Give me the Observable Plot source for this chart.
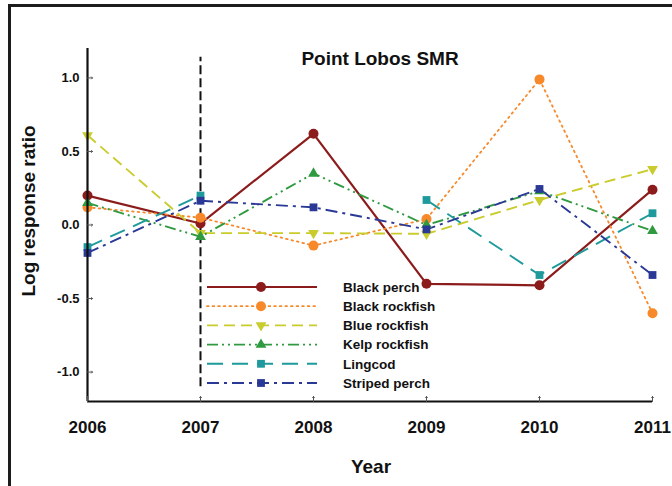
<!DOCTYPE html>
<html>
<head>
<meta charset="utf-8">
<script src="https://cdn.jsdelivr.net/npm/d3@7"></script>
<script src="https://cdn.jsdelivr.net/npm/@observablehq/plot@0.6"></script>
<style>
  html, body { margin: 0; padding: 0; background: #fff; }
  #wrap { position: relative; width: 672px; height: 486px; overflow: hidden; }
  #border { position: absolute; left: 8px; top: 4px; width: 700px; height: 500px;
            border-left: 3px solid #1c1c1c; border-top: 3px solid #1c1c1c; pointer-events: none; }
</style>
</head>
<body>
<div id="wrap"><div id="border"></div></div>
<script>
const years = [2006, 2007, 2008, 2009, 2010, 2011];
const yTicks = [-1.0, -0.5, 0.0, 0.5, 1.0];
const species = ["Black perch", "Black rockfish", "Blue rockfish", "Kelp rockfish", "Lingcod", "Striped perch"];
const blackPerch    = [0.20, 0.01, 0.62, -0.40, -0.41, 0.24];
const blackRockfish = [0.12, 0.05, -0.14, 0.04, 0.99, -0.60];
const blueRockfish  = [0.61, -0.055, -0.055, -0.06, 0.17, 0.38];
const kelpRockfish  = [0.15, -0.08, 0.35, 0.00, 0.23, -0.04];
const lingcod       = [-0.15, 0.20, null, 0.17, -0.34, 0.08];
const stripedPerch  = [-0.19, 0.165, 0.12, -0.03, 0.245, -0.34];
const reserveYear = 2007;
const reserveSpan = [-1.10, 1.14];
const title = "Point Lobos SMR";

const seriesValues = [blackPerch, blackRockfish, blueRockfish, kelpRockfish, lingcod, stripedPerch];
const styles = [
  {color: "#8c1c1c", dash: null,               symbol: "circle",   r: 5,   rotate: 0,   width: 2.2},
  {color: "#f7892a", dash: "1.6,4",            symbol: "circle",   r: 5,   rotate: 0,   width: 1.8},
  {color: "#c9cc2c", dash: "11,6",             symbol: "triangle", r: 4,   rotate: 180, width: 1.9},
  {color: "#2f9a40", dash: "11,4,2,4,2,4",     symbol: "triangle", r: 4,   rotate: 0,   width: 1.9},
  {color: "#1f9a9c", dash: "16,9",             symbol: "square",   r: 4.4, rotate: 0,   width: 1.9},
  {color: "#2a3896", dash: "12,5,3,5",         symbol: "square",   r: 4.4, rotate: 0,   width: 1.9}
];

const font = "'Liberation Sans', Arial, Helvetica, sans-serif";

const marks = [];
// reserve establishment line
marks.push(Plot.ruleX([reserveYear], {y1: reserveSpan[0], y2: reserveSpan[1], stroke: "#111", strokeWidth: 2, strokeDasharray: "9,4"}));

species.forEach((name, i) => {
  const s = styles[i];
  const data = years.map((yr, j) => ({year: yr, value: seriesValues[i][j]}));
  marks.push(Plot.line(data, {x: "year", y: "value", stroke: s.color, strokeWidth: s.width,
    strokeDasharray: s.dash, strokeLinecap: i === 1 ? "round" : "butt"}));
});
species.forEach((name, i) => {
  const s = styles[i];
  const data = years.map((yr, j) => ({year: yr, value: seriesValues[i][j]})).filter(d => d.value != null);
  marks.push(Plot.dot(data, {x: "year", y: "value", fill: s.color, stroke: "none", symbol: s.symbol, r: s.r, rotate: s.rotate}));
});

// axes lines
marks.push(Plot.ruleX([years[0]], {stroke: "#111", strokeWidth: 2.2}));
marks.push(Plot.ruleY([-1.2], {stroke: "#111", strokeWidth: 2.2}));
// inward ticks
marks.push(Plot.vector(yTicks, {y: d => d, frameAnchor: "left", rotate: 90, length: 5, anchor: "start", stroke: "#555", strokeWidth: 1}));
marks.push(Plot.vector(years, {x: d => d, frameAnchor: "bottom", rotate: 0, length: 5, anchor: "start", stroke: "#555", strokeWidth: 1}));
marks.push(Plot.axisY(yTicks, {tickSize: 0, tickPadding: 8, fontSize: 13, fontWeight: "bold", tickFormat: d => d.toFixed(1), label: null}));
marks.push(Plot.axisX(years, {tickSize: 0, tickPadding: 19, fontSize: 17, fontWeight: "bold", tickFormat: d => String(d), label: null}));
// titles
marks.push(Plot.text([title], {frameAnchor: "top", dx: 10, dy: 3, fontSize: 19, fontWeight: "bold", fill: "#111", textAnchor: "middle"}));
marks.push(Plot.text(["Year"], {frameAnchor: "bottom", dx: 1, dy: 71, fontSize: 19, fontWeight: "bold", fill: "#111", textAnchor: "middle"}));
marks.push(Plot.text(["Log response ratio"], {frameAnchor: "left", dx: -59, dy: -14, rotate: -90, fontSize: 19, fontWeight: "bold", fill: "#111", textAnchor: "middle"}));

const chart = Plot.plot({
  width: 672, height: 486,
  marginLeft: 87, marginRight: 20, marginTop: 48, marginBottom: 85,
  x: {domain: [2006, 2011], type: "linear"},
  y: {domain: [-1.2, 1.2]},
  style: {fontFamily: font, background: "transparent", color: "#111", overflow: "visible"},
  marks
});

// legend
const svg = d3.select(chart);
const L = {x1: 207, x2: 317, xm: 261, xt: 343, y0: 287, dy: 19.2};
const g = svg.append("g").attr("text-anchor", "start");
species.forEach((name, i) => {
  const s = styles[i];
  const y = L.y0 + i * L.dy;
  g.append("line").attr("x1", L.x1).attr("x2", L.x2).attr("y1", y).attr("y2", y)
    .attr("stroke", s.color).attr("stroke-width", s.width)
    .attr("stroke-dasharray", s.dash).attr("stroke-linecap", i === 1 ? "round" : "butt");
  const sym = s.symbol === "circle" ? d3.symbolCircle : s.symbol === "square" ? d3.symbolSquare : d3.symbolTriangle;
  const area = Math.PI * s.r * s.r;
  g.append("path").attr("d", d3.symbol(sym, area)())
    .attr("transform", `translate(${L.xm},${y}) rotate(${s.rotate})`).attr("fill", s.color);
  g.append("text").attr("x", L.xt).attr("y", y).attr("dy", "0.35em").attr("text-anchor", "start")
    .attr("font-size", 13.5).attr("font-weight", "bold").attr("fill", "#111").text(name);
});

document.getElementById("wrap").prepend(chart);
</script>
</body>
</html>
